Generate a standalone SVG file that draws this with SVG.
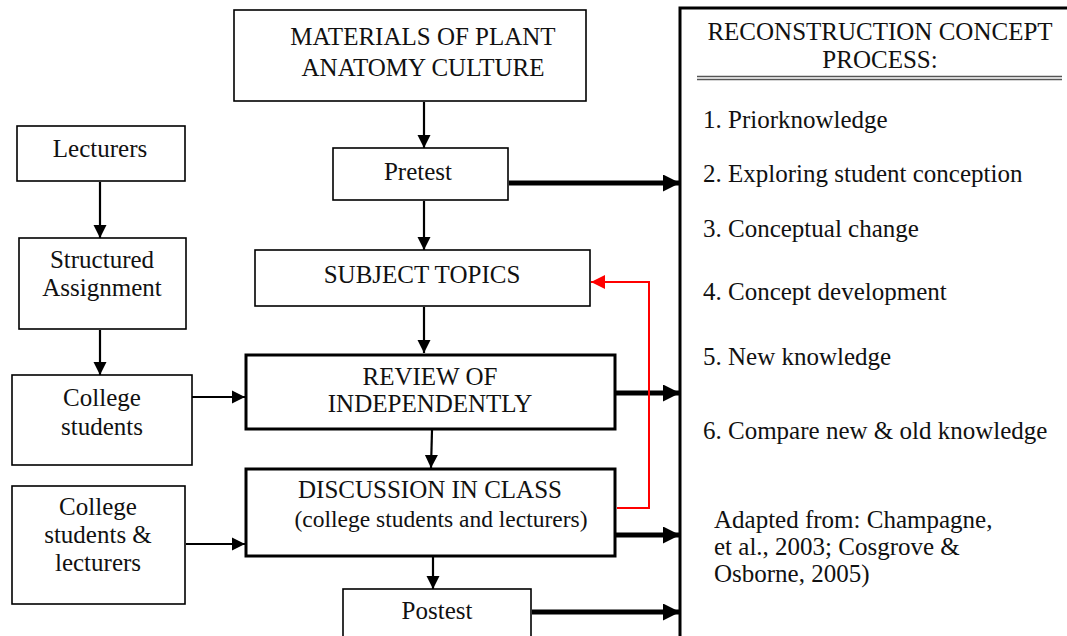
<svg xmlns="http://www.w3.org/2000/svg" width="1067" height="636" viewBox="0 0 1067 636">
<defs>
<style>
.box{fill:#fff;stroke:#000;stroke-width:1.6}
.tbox{fill:#fff;stroke:#000;stroke-width:3}
.t{font-family:"Liberation Serif","Times New Roman",serif;font-size:25px;fill:#111;text-anchor:middle}
.l{font-family:"Liberation Serif","Times New Roman",serif;font-size:25px;fill:#111}
.thin{stroke:#000;stroke-width:2.2;fill:none}
.thick{stroke:#000;stroke-width:5;fill:none}
.red{stroke:#f00;stroke-width:2;fill:none}
</style>
<marker id="ah" viewBox="0 0 10 10" refX="10" refY="5" markerWidth="6" markerHeight="6" markerUnits="strokeWidth" orient="auto"><path d="M0,0 L10,5 L0,10 z" fill="#000"/></marker>
<marker id="ahk" viewBox="0 0 10 10" refX="10" refY="5" markerWidth="3.4" markerHeight="3.4" markerUnits="strokeWidth" orient="auto"><path d="M0,0 L10,5 L0,10 z" fill="#000"/></marker>
<marker id="ahr" viewBox="0 0 10 10" refX="10" refY="5" markerWidth="7" markerHeight="7" markerUnits="strokeWidth" orient="auto"><path d="M0,0 L10,5 L0,10 z" fill="#f00"/></marker>
</defs>
<rect width="1067" height="636" fill="#fff"/>

<g id="connectors">
<line class="thin" x1="424" y1="102" x2="424" y2="148" marker-end="url(#ah)"/>
<line class="thin" x1="424" y1="201" x2="424" y2="250" marker-end="url(#ah)"/>
<line class="thin" x1="424" y1="307" x2="424" y2="353" marker-end="url(#ah)"/>
<line class="thin" x1="432" y1="430" x2="431" y2="468" marker-end="url(#ah)"/>
<line class="thin" x1="433" y1="557" x2="433" y2="589" marker-end="url(#ah)"/>
<line class="thin" x1="100" y1="182" x2="100" y2="238" marker-end="url(#ah)"/>
<line class="thin" x1="100" y1="330" x2="100" y2="375" marker-end="url(#ah)"/>
<line class="thin" x1="192" y1="397" x2="245" y2="397" marker-end="url(#ah)"/>
<line class="thin" x1="186" y1="544" x2="245" y2="544" marker-end="url(#ah)"/>
<line class="thick" x1="509" y1="183" x2="680" y2="183" marker-end="url(#ahk)"/>
<line class="thick" x1="616" y1="393" x2="680" y2="393" marker-end="url(#ahk)"/>
<line class="thick" x1="616" y1="535" x2="680" y2="535" marker-end="url(#ahk)"/>
<line class="thick" x1="532" y1="612" x2="680" y2="612" marker-end="url(#ahk)"/>
<polyline class="red" points="617,508 649,508 649,282 591,282" marker-end="url(#ahr)"/>
</g>

<g id="materials"><rect class="box" x="234" y="10" width="352" height="91"/>
<text class="t" x="423" y="45">MATERIALS OF PLANT</text><text class="t" x="423" y="76">ANATOMY CULTURE</text></g>

<g id="pretest"><rect class="box" x="333" y="148" width="175" height="52"/>
<text class="t" x="418" y="180">Pretest</text></g>

<g id="subject"><rect class="box" x="255" y="250" width="335" height="56"/>
<text class="t" x="422" y="283">SUBJECT TOPICS</text></g>

<g id="review"><rect class="tbox" x="246" y="355" width="369" height="74"/>
<text class="t" x="430" y="385">REVIEW OF</text><text class="t" x="430" y="412">INDEPENDENTLY</text></g>

<g id="discussion"><rect class="tbox" x="246" y="469" width="369" height="87"/>
<text class="t" x="430" y="498">DISCUSSION IN CLASS</text><text class="t" x="441" y="527" style="font-size:23.5px">(college students and lecturers)</text></g>

<g id="postest"><rect class="box" x="343" y="589" width="188" height="60"/>
<text class="t" x="437" y="619">Postest</text></g>

<g id="lecturers"><rect class="box" x="17" y="126" width="168" height="55"/>
<text class="t" x="100" y="157">Lecturers</text></g>

<g id="structured"><rect class="box" x="19" y="238" width="167" height="91"/>
<text class="t" x="102" y="268">Structured</text><text class="t" x="102" y="296">Assignment</text></g>

<g id="college"><rect class="box" x="12" y="375" width="180" height="90"/>
<text class="t" x="102" y="406">College</text><text class="t" x="102" y="435">students</text></g>

<g id="college2"><rect class="box" x="12" y="486" width="173" height="118"/>
<text class="t" x="98" y="515">College</text><text class="t" x="98" y="543">students &amp;</text><text class="t" x="98" y="571">lecturers</text></g>

<g id="process">
<rect x="680" y="8" width="400" height="640" fill="#fff" stroke="#000" stroke-width="3"/>
<text class="t" x="880" y="40">RECONSTRUCTION CONCEPT</text>
<text class="t" x="880" y="68">PROCESS:</text>
<line x1="697" y1="76.5" x2="1062" y2="76.5" stroke="#555" stroke-width="1.5"/>
<line x1="697" y1="79.5" x2="1062" y2="79.5" stroke="#555" stroke-width="1.5"/>
<text class="l" x="703" y="128">1. Priorknowledge</text>
<text class="l" x="703" y="182">2. Exploring student conception</text>
<text class="l" x="703" y="237">3. Conceptual change</text>
<text class="l" x="703" y="300">4. Concept development</text>
<text class="l" x="703" y="365">5. New knowledge</text>
<text class="l" x="703" y="439">6. Compare new &amp; old knowledge</text>
<text class="l" x="714" y="528">Adapted from: Champagne,</text>
<text class="l" x="714" y="555">et al., 2003; Cosgrove &amp;</text>
<text class="l" x="714" y="582">Osborne, 2005)</text>
</g>
</svg>
